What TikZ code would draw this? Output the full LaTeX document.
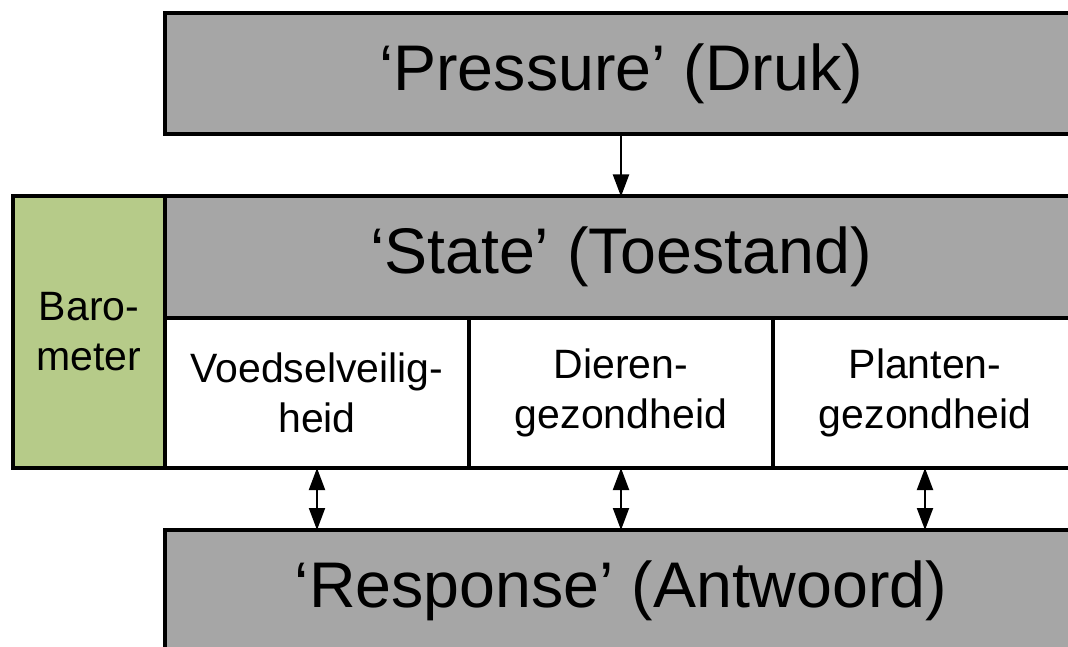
\documentclass[tikz,border=0pt]{standalone}
\usepackage{fontspec}
\setmainfont{Liberation Sans}
\usetikzlibrary{arrows.meta}
\definecolor{boxgray}{RGB}{166,166,166}
\definecolor{barogreen}{RGB}{182,203,137}
\tikzset{
  bigbox/.style={draw=black, line width=4pt, fill=boxgray, inner sep=0pt, outer sep=0pt,
    minimum width=912pt, minimum height=121pt, align=center,
    font=\fontsize{64.5}{77}\selectfont},
  cellbox/.style={draw=black, line width=4pt, fill=white, inner sep=0pt, outer sep=0pt,
    minimum width=304pt, minimum height=150pt, align=center,
    font=\fontsize{41}{50}\selectfont},
  barobox/.style={draw=black, line width=4pt, fill=barogreen, inner sep=0pt, outer sep=0pt,
    minimum width=152pt, minimum height=272pt, align=center,
    font=\fontsize{41}{50}\selectfont},
  conn/.style={line width=2pt, -{Triangle[width=16pt,length=22pt]}},
  dconn/.style={line width=2pt, {Triangle[width=16pt,length=22pt]}-{Triangle[width=16pt,length=22pt]}},
}
\begin{document}
\begin{tikzpicture}[x=1pt,y=1pt]
\useasboundingbox (0,0) rectangle (1068,-647);
\clip (0,0) rectangle (1068,-647);
\node[bigbox] (pressure) at (621,-73.5) {‘Pressure’ (Druk)};
\node[bigbox] (state) at (621,-257) {‘State’ (Toestand)};
\node[cellbox] (cell1) at (317,-393) {Voedselveilig-\\heid};
\node[cellbox] (cell2) at (621,-393) {Dieren-\\gezondheid};
\node[cellbox] (cell3) at (925,-393) {Planten-\\gezondheid};
\node[barobox] (baro) at (89,-332) {Baro-\\meter};
\node[bigbox] (response) at (621,-590.5) {‘Response’ (Antwoord)};
\draw[conn] (pressure.south) -- (state.north);
\draw[dconn] (cell1.south) -- (cell1.south |- response.north);
\draw[dconn] (cell2.south) -- (cell2.south |- response.north);
\draw[dconn] (cell3.south) -- (cell3.south |- response.north);
\end{tikzpicture}
\end{document}
